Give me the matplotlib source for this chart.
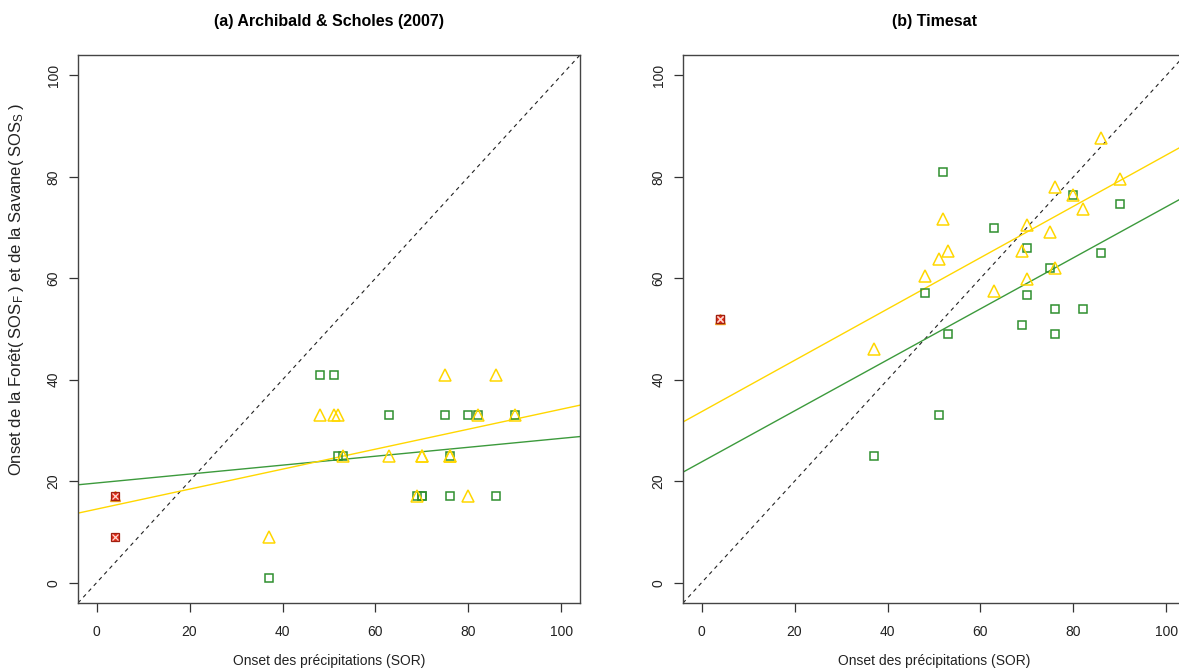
import matplotlib.pyplot as plt

plt.rcParams['font.family'] = ['Liberation Sans', 'DejaVu Sans']
plt.rcParams['mathtext.fontset'] = 'custom'
plt.rcParams['mathtext.rm'] = 'Liberation Sans'
plt.rcParams['mathtext.it'] = 'Liberation Sans:italic'

# onset of rainfall (SOR), same sites for both panels
sor = [37, 48, 51, 52, 53, 63, 69, 70, 70, 75, 76, 76, 80, 82, 86, 90]

# (a) Archibald & Scholes (2007)
a_forest = [1, 41, 41, 25, 25, 33, 17, 17, 17, 33, 25, 17, 33, 33, 17, 33]
a_savanna = [9, 33, 33, 33, 25, 25, 17, 25, 25, 41, 25, 25, 17, 33, 41, 33]
# (b) Timesat
b_forest = [25, 57, 33, 81, 49, 70, 50.7, 66, 56.7, 62, 54, 49, 76.5, 54, 65, 74.7]
b_savanna = [46, 60.5, 63.8, 71.7, 65.3, 57.4, 65.3, 70.4, 59.8, 69.2, 78, 62, 76.5, 73.6, 87.6, 79.6]

# excluded point (red)
sor_out = [4]
a_forest_out = [9]
a_savanna_out = [17]
b_forest_out = [52]
b_savanna_out = [52]

# fitted lines (intercept, slope)
a_fit_forest = (19.65, 0.088)
a_fit_savanna = (14.5, 0.197)
b_fit_forest = (23.8, 0.503)
b_fit_savanna = (33.7, 0.506)

green = '#2f8f2f'
green_line = '#3c9a3c'
yellow = '#ffd700'
red = '#e0301e'

W, H = 1179, 668
fig = plt.figure(figsize=(W / 100, H / 100), dpi=100)

panels = [
    (78, '(a) Archibald & Scholes (2007)', a_forest, a_savanna, a_forest_out, a_savanna_out, a_fit_forest, a_fit_savanna),
    (683, '(b) Timesat', b_forest, b_savanna, b_forest_out, b_savanna_out, b_fit_forest, b_fit_savanna),
]

axes = []
for left, title, forest, savanna, f_out, s_out, fit_f, fit_s in panels:
    ax = fig.add_axes([left / W, (H - 603) / H, 502 / W, 548 / H])
    axes.append(ax)

    ax.axline((0, 0), slope=1, color='#222222', lw=0.8, linestyle=(0, (3.5, 3.5)))
    ax.axline((0, fit_f[0]), slope=fit_f[1], color=green_line, lw=1.0)
    ax.axline((0, fit_s[0]), slope=fit_s[1], color=yellow, lw=1.0)

    ax.plot(sor, forest, linestyle='none', marker='s', ms=6, mfc='none', mec=green, mew=1.1)
    ax.plot(sor, savanna, linestyle='none', marker='^', ms=8, mfc='none', mec=yellow, mew=1.1)

    ax.plot(sor_out, s_out, linestyle='none', marker='^', ms=7.5, mfc='none', mec='#f0a020', mew=1.0)
    ax.plot(sor_out, f_out, linestyle='none', marker='s', ms=6, mfc=red, mec='#a02010', mew=0.9)
    ax.plot(sor_out, s_out, linestyle='none', marker='s', ms=6, mfc=red, mec='#a02010', mew=0.9)
    ax.plot(sor_out + sor_out, f_out + s_out, linestyle='none', marker='x', ms=4, mec='#ffd8d0', mew=0.9)

    ax.set_xlim(-4, 104)
    ax.set_ylim(-4, 104)
    ax.set_xticks([0, 20, 40, 60, 80, 100])
    ax.set_yticks([0, 20, 40, 60, 80, 100])
    ax.tick_params(direction='out', length=6.5, width=0.9, color='#333333',
                   labelsize=10, pad=9, labelcolor='#222222')
    ax.tick_params(axis='y', pad=6)
    for lab in ax.get_yticklabels():
        lab.set_rotation(90)
        lab.set_va('center')
    for sp in ax.spines.values():
        sp.set_color('#444444')
        sp.set_linewidth(1.0)

    ax.set_title(title, fontsize=11.5, fontweight='bold', pad=21)
    ax.set_xlabel('Onset des précipitations (SOR)', fontsize=10, labelpad=11, color='#222222')

axes[0].set_ylabel(r'Onset de la Forêt$(\;\mathrm{SOS_F}\;)$ et de la Savane$(\;\mathrm{SOS_S}\;)$',
                   fontsize=12, color='#222222')
axes[0].yaxis.set_label_coords(-0.104, 0.573)

fig.savefig('out.png', dpi=100)
